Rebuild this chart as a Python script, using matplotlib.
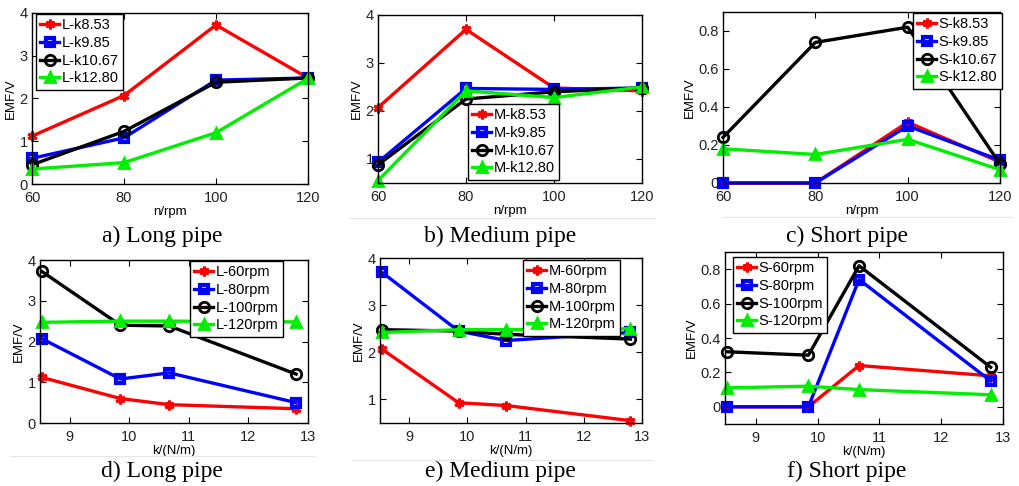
import matplotlib
matplotlib.use("Agg")
import matplotlib.pyplot as plt

plt.rcParams['font.family'] = ['Liberation Sans', 'DejaVu Sans']

rpm = [60, 80, 100, 120]
k_vals = [8.53, 9.85, 10.67, 12.80]

# Long pipe vs rpm
L_k853 = [1.12, 2.07, 3.72, 2.48]
L_k985 = [0.60, 1.08, 2.43, 2.48]
L_k1067 = [0.45, 1.23, 2.38, 2.48]
L_k1280 = [0.35, 0.50, 1.20, 2.47]
# Medium pipe vs rpm
M_k853 = [2.07, 3.70, 2.48, 2.42]
M_k985 = [0.93, 2.47, 2.45, 2.48]
M_k1067 = [0.88, 2.25, 2.40, 2.48]
M_k1280 = [0.55, 2.42, 2.28, 2.50]
# Short pipe vs rpm
S_k853 = [0.00, 0.00, 0.32, 0.11]
S_k985 = [0.00, 0.00, 0.30, 0.12]
S_k1067 = [0.24, 0.74, 0.82, 0.10]
S_k1280 = [0.18, 0.15, 0.23, 0.07]

# Long pipe vs k
L_60 = [1.12, 0.60, 0.45, 0.35]
L_80 = [2.07, 1.08, 1.23, 0.50]
L_100 = [3.72, 2.40, 2.38, 1.20]
L_120 = [2.47, 2.50, 2.50, 2.48]
# Medium pipe vs k
M_60 = [2.07, 0.93, 0.87, 0.55]
M_80 = [3.70, 2.45, 2.25, 2.42]
M_100 = [2.48, 2.45, 2.38, 2.28]
M_120 = [2.42, 2.48, 2.48, 2.50]
# Short pipe vs k
S_60 = [0.00, 0.00, 0.24, 0.18]
S_80 = [0.00, 0.00, 0.74, 0.15]
S_100 = [0.32, 0.30, 0.82, 0.23]
S_120 = [0.11, 0.12, 0.10, 0.07]

top_labels = ['k8.53', 'k9.85', 'k10.67', 'k12.80']
bot_labels = ['60rpm', '80rpm', '100rpm', '120rpm']
captions = ['a) Long pipe', 'b) Medium pipe', 'c) Short pipe',
            'd) Long pipe', 'e) Medium pipe', 'f) Short pipe']

W, H = 1020, 486
fig = plt.figure(figsize=(W / 100, H / 100), dpi=100)

def ax_px(l, t, r, b):
    return fig.add_axes([l / W, 1 - b / H, (r - l) / W, (b - t) / H])

styles = [
    dict(color='#ff0000', marker=(6, 2, 0), markersize=7, markeredgewidth=2.2),
    dict(color='#0000ff', marker='s', markersize=6, markerfacecolor='none', markeredgewidth=3),
    dict(color='#000000', marker='o', markersize=7.5, markerfacecolor='none', markeredgewidth=2),
    dict(color='#00ee00', marker='^', markersize=7.5, markeredgewidth=2),
]

panels = [
    dict(box=(32, 13, 308, 184), x=rpm, ys=[L_k853, L_k985, L_k1067, L_k1280], pre='L-', labels=top_labels,
         xlim=(60, 120), xticks=[60, 80, 100, 120], ylim=(0, 4), yticks=[0, 1, 2, 3, 4], ytl=['0', '1', '2', '3', '4'],
         xlabel='n/rpm', leg=(36, 14), cap=(162, 236), sep=None),
    dict(box=(378, 15, 642, 183), x=rpm, ys=[M_k853, M_k985, M_k1067, M_k1280], pre='M-', labels=top_labels,
         xlim=(60, 120), xticks=[60, 80, 100, 120], ylim=(0.5, 4), yticks=[1, 2, 3, 4], ytl=['1', '2', '3', '4'],
         xlabel='n/rpm', leg=(468, 104), cap=(500, 236), sep=(350, 655, 218)),
    dict(box=(723, 12, 1000, 183), x=rpm, ys=[S_k853, S_k985, S_k1067, S_k1280], pre='S-', labels=top_labels,
         xlim=(60, 120), xticks=[60, 80, 100, 120], ylim=(0, 0.9), yticks=[0, 0.2, 0.4, 0.6, 0.8],
         ytl=['0', '0.2', '0.4', '0.6', '0.8'], xlabel='n/rpm', leg=(913, 13), cap=(847, 236), sep=(723, 1013, 217)),
    dict(box=(40, 260, 308, 423), x=k_vals, ys=[L_60, L_80, L_100, L_120], pre='L-', labels=bot_labels,
         xlim=(8.5, 13), xticks=[9, 10, 11, 12, 13], ylim=(0, 4), yticks=[0, 1, 2, 3, 4], ytl=['0', '1', '2', '3', '4'],
         xlabel='k/(N/m)', leg=(190, 261), cap=(162, 471), sep=(10, 315, 456)),
    dict(box=(380, 258, 642, 423), x=k_vals, ys=[M_60, M_80, M_100, M_120], pre='M-', labels=bot_labels,
         xlim=(8.5, 13), xticks=[9, 10, 11, 12, 13], ylim=(0.5, 4), yticks=[1, 2, 3, 4], ytl=['1', '2', '3', '4'],
         xlabel='k/(N/m)', leg=(523, 260), cap=(500, 471), sep=(352, 652, 460)),
    dict(box=(725, 252, 1003, 424), x=k_vals, ys=[S_60, S_80, S_100, S_120], pre='S-', labels=bot_labels,
         xlim=(8.5, 13), xticks=[9, 10, 11, 12, 13], ylim=(-0.1, 0.9), yticks=[0, 0.2, 0.4, 0.6, 0.8],
         ytl=['0', '0.2', '0.4', '0.6', '0.8'], xlabel='k/(N/m)', leg=(733, 257), cap=(847, 471), sep=None),
]

for p in panels:
    l, t, r, b = p['box']
    if p['sep'] is not None:
        x0, x1, yy = p['sep']
        fig.add_artist(plt.Line2D([x0 / W, x1 / W], [1 - yy / H, 1 - yy / H], transform=fig.transFigure,
                                  color='#e6e6e6', linewidth=0.8))
    ax = ax_px(l, t, r, b)
    for y, st, lab in zip(p['ys'], styles, p['labels']):
        ax.plot(p['x'], y, linewidth=2.4, label=p['pre'] + lab, clip_on=False, **st)
    ax.set_xlim(*p['xlim'])
    ax.set_ylim(*p['ylim'])
    ax.set_xticks(p['xticks'])
    ax.set_yticks(p['yticks'])
    ax.set_yticklabels(p['ytl'])
    ax.tick_params(direction='in', top=True, right=True, labelsize=10.5, length=4, width=0.8,
                   colors='black', labelcolor='#222222')
    ax.tick_params(axis='x', pad=5)
    ax.tick_params(axis='y', pad=3)
    for s in ax.spines.values():
        s.set_linewidth(1.0)
    ax.set_xlabel(p['xlabel'], fontsize=9.5, labelpad=1)
    ax.set_ylabel('EMF/V', fontsize=9.5, labelpad=2)
    lx, ly = p['leg']
    leg = ax.legend(loc='upper left', bbox_to_anchor=(lx / W, 1 - ly / H), bbox_transform=fig.transFigure,
                    fontsize=10.5, frameon=True, fancybox=False, framealpha=1, edgecolor='black',
                    handlelength=1.3, handletextpad=0.15, labelspacing=0.25, borderpad=0.3, borderaxespad=0)
    leg.get_frame().set_linewidth(1.0)
    cx, cy = p['cap']
    fig.text(cx / W, 1 - cy / H, captions[p['xlabel'] and panels.index(p)], ha='center', va='center',
             fontsize=17, family=['Liberation Serif', 'DejaVu Serif'])

fig.savefig('out.png', dpi=100)
